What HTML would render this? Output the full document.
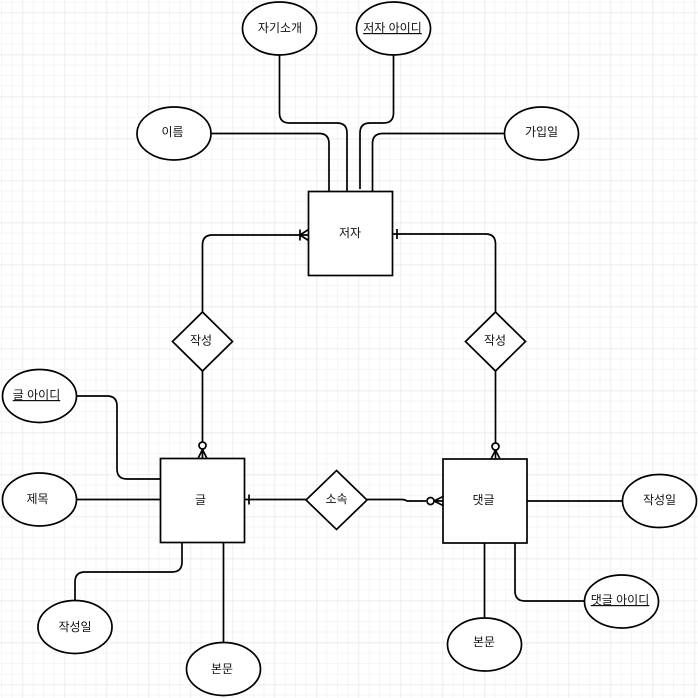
<!DOCTYPE html>
<html><head><meta charset="utf-8">
<style>
html,body{margin:0;padding:0;background:#fff}
svg{display:block}
text{font-family:"Liberation Sans","Noto Sans CJK KR",sans-serif;font-size:12px;fill:#111;text-anchor:middle}
.s{fill:#fff;stroke:#000;stroke-width:1.7}
.l{fill:none;stroke:#000;stroke-width:1.7;stroke-linejoin:round}
</style></head><body>
<svg width="698" height="698" viewBox="0 0 698 698" xmlns="http://www.w3.org/2000/svg">
<defs>
<pattern id="g" x="22.5" y="12.5" width="42" height="42" patternUnits="userSpaceOnUse">
<path d="M0 10.5H42M0 21H42M0 31.5H42M10.5 0V42M21 0V42M31.5 0V42" stroke="#f5f5f7" stroke-width="1" fill="none"/>
<path d="M0 0H42M0 0V42" stroke="#e4e4e8" stroke-width="1.4" fill="none"/>
</pattern>
</defs>
<rect width="698" height="698" fill="#fff"/>
<rect width="698" height="698" fill="url(#g)"/>

<g class="l">
<path class="l" d="M211 133.500H319Q329 133.500 329 143.500V191.500"/>
<path class="l" d="M279.500 55V113Q279.500 123 289.500 123H337Q347 123 347 133V191.500"/>
<path class="l" d="M393.500 55V113Q393.500 123 383.500 123H370Q360 123 360 133V189"/>
<path class="l" d="M504 133.500H383Q372.500 133.500 372.500 143.500V191.500"/>
<path class="l" d="M202.500 312V245Q202.500 235 212.500 235H308.500"/>
<path class="l" d="M300 229.500V240.500M300 235L308.500 229.500M300 235L308.500 240.500"/>
<path class="l" d="M495.500 312V244Q495.500 234 485.500 234H392.500"/>
<path class="l" d="M397 229V239"/>
<path class="l" d="M202.500 371V442"/>
<path class="l" d="M495.500 371V443"/>
<path class="l" d="M198 458.500L202.500 449.500L207 458.500M202.500 449.500V458.500"/>
<path class="l" d="M491 459L495.500 450L500 459M495.500 450V459"/>
<path class="l" d="M244.500 499.500H306"/>
<path class="l" d="M249 494.500V504.500"/>
<path class="l" d="M367 499.500H402Q405 499.500 407 501H426"/>
<path class="l" d="M443 496.500L434 501L443 505.500M434 501H443"/>
<path class="l" d="M76 396H107Q117 396 117 406V469Q117 479 127 479H160.500"/>
<path class="l" d="M76 499.500H160.500"/>
<path class="l" d="M182 542.500V562Q182 572 172 572H85Q75 572 75 582V601"/>
<path class="l" d="M223.500 542.500V643"/>
<path class="l" d="M484.500 543V618"/>
<path class="l" d="M515 543V591Q515 601 525 601H585"/>
<path class="l" d="M527 501H622"/>
</g>
<circle class="s" cx="202.500" cy="445.500" r="3.500"/>
<circle class="s" cx="495.500" cy="446.500" r="3.500"/>
<circle class="s" cx="430.500" cy="501" r="3.500"/>

<rect class="s" x="308.500" y="191.500" width="84" height="84"/>
<rect class="s" x="160.500" y="458.500" width="84" height="84"/>
<rect class="s" x="443" y="459" width="84" height="84"/>

<polygon class="s" points="202.500,312 232.500,341.500 202.500,371 172.500,341.500"/>
<polygon class="s" points="495.500,312 525.500,341.500 495.500,371 465.500,341.500"/>
<polygon class="s" points="336.500,470.500 367,500 336.500,529.500 306,500"/>

<ellipse class="s" cx="174" cy="133.500" rx="37" ry="26.500"/>
<ellipse class="s" cx="279.500" cy="28.500" rx="37" ry="26.500"/>
<ellipse class="s" cx="393.500" cy="28.500" rx="37" ry="26.500"/>
<ellipse class="s" cx="541.500" cy="133.500" rx="37" ry="26.500"/>
<ellipse class="s" cx="39.500" cy="396" rx="37" ry="26.500"/>
<ellipse class="s" cx="39.500" cy="499.500" rx="37" ry="26.500"/>
<ellipse class="s" cx="75" cy="627" rx="37" ry="26.500"/>
<ellipse class="s" cx="223.500" cy="669" rx="37" ry="26.500"/>
<ellipse class="s" cx="484.500" cy="644.500" rx="37" ry="26.500"/>
<ellipse class="s" cx="621.500" cy="601.500" rx="37" ry="26.500"/>
<ellipse class="s" cx="659.500" cy="501" rx="37" ry="26.500"/>

<text x="172.500" y="136">이름</text>
<text x="280" y="32">자기소개</text>
<text x="392.500" y="32" text-decoration="underline">저자 아이디</text>
<text x="541.500" y="136">가입일</text>
<text x="350" y="237">저자</text>
<text x="200.500" y="504">글</text>
<text x="483.500" y="504">댓글</text>
<text x="201" y="344.500">작성</text>
<text x="495" y="344.500">작성</text>
<text x="336.500" y="503">소속</text>
<text x="36.500" y="399" text-decoration="underline">글 아이디</text>
<text x="37.500" y="503">제목</text>
<text x="75" y="631">작성일</text>
<text x="222" y="673">본문</text>
<text x="484" y="646">본문</text>
<text x="620" y="604" text-decoration="underline">댓글 아이디</text>
<text x="659.500" y="504">작성일</text>
</svg>
</body></html>
